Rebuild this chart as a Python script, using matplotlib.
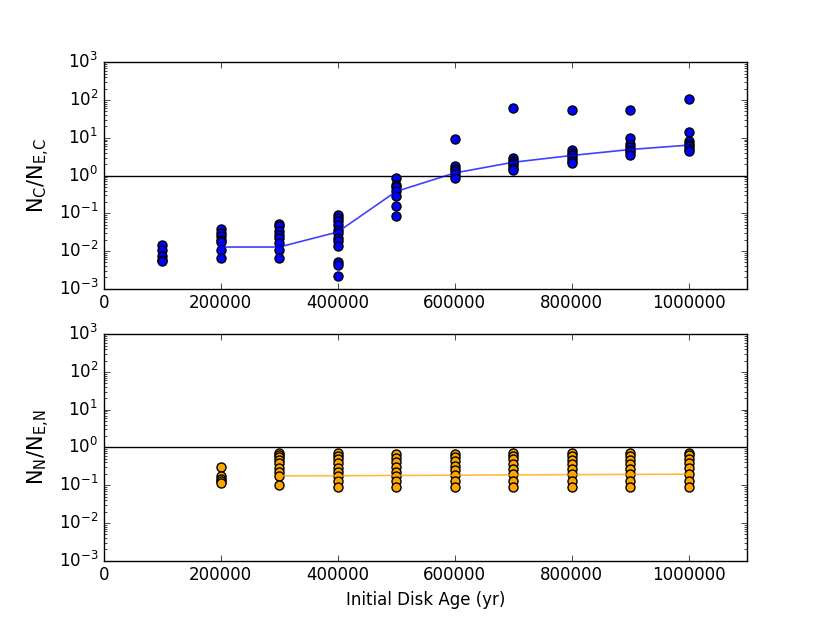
import numpy as np
import matplotlib
matplotlib.use('Agg')
import matplotlib.pyplot as plt

# carbon ratio N_C/N_E,C, points per initial disk age
ages_c = [100000, 200000, 300000, 400000, 500000, 600000, 700000, 800000, 900000, 1000000]
ratio_c = [
    [0.0148, 0.011, 0.0076, 0.0059, 0.0054],
    [0.039, 0.030, 0.025, 0.020, 0.017, 0.0105, 0.0065],
    [0.053, 0.046, 0.035, 0.027, 0.022, 0.016, 0.0105, 0.0065],
    [0.089, 0.076, 0.061, 0.048, 0.037, 0.030, 0.022, 0.018, 0.014, 0.0051, 0.0044, 0.0022],
    [0.87, 0.58, 0.49, 0.38, 0.28, 0.16, 0.083],
    [9.1, 1.77, 1.53, 1.30, 1.11, 0.87],
    [60, 2.9, 2.5, 2.2, 1.85, 1.6, 1.4],
    [56, 4.7, 4.0, 3.5, 2.9, 2.5, 2.2],
    [56, 9.6, 6.9, 5.8, 4.9, 4.2, 3.6],
    [104, 14, 8.2, 6.9, 6.0, 5.2, 4.6],
]
med_age_c = [200000, 300000, 400000, 500000, 600000, 700000, 800000, 900000, 1000000]
med_c = [0.0128, 0.0128, 0.032, 0.38, 1.17, 2.25, 3.4, 4.9, 6.4]

# nitrogen ratio N_N/N_E,N
ages_n = [200000, 300000, 400000, 500000, 600000, 700000, 800000, 900000, 1000000]
ratio_n = [
    [0.31, 0.17, 0.15, 0.13, 0.117],
    [0.71, 0.64, 0.55, 0.47, 0.38, 0.28, 0.23, 0.18, 0.10],
    [0.71, 0.60, 0.50, 0.38, 0.29, 0.23, 0.18, 0.13, 0.087],
    [0.66, 0.52, 0.42, 0.30, 0.23, 0.18, 0.13, 0.087],
    [0.68, 0.55, 0.44, 0.33, 0.25, 0.19, 0.13, 0.087],
    [0.71, 0.60, 0.48, 0.36, 0.27, 0.20, 0.13, 0.087],
    [0.71, 0.60, 0.47, 0.36, 0.27, 0.20, 0.13, 0.087],
    [0.71, 0.60, 0.47, 0.36, 0.27, 0.20, 0.13, 0.087],
    [0.73, 0.62, 0.49, 0.38, 0.28, 0.20, 0.13, 0.09],
]
med_age_n = [300000, 400000, 500000, 600000, 700000, 800000, 900000, 1000000]
med_n = [0.177, 0.178, 0.181, 0.184, 0.187, 0.19, 0.193, 0.196]

plt.style.use('classic')
plt.rcParams['mathtext.fontset'] = 'dejavusans'
fig, (ax1, ax2) = plt.subplots(2, 1, figsize=(8.3, 6.23), dpi=100)
fig.patch.set_facecolor('white')

def panel(ax, ages, vals, mage, med, col, lab):
    for a, v in zip(ages, vals):
        ax.plot([a] * len(v), v, 'o', color=col, mec='black', mew=1, ms=6.5, zorder=3)
    ax.plot(mage, med, '-', color=col, lw=1.2, alpha=0.75, zorder=4)
    ax.axhline(1.0, color='black', lw=1, zorder=2)
    ax.set_yscale('log')
    ax.set_ylim(1e-3, 1e3)
    ax.set_xlim(0, 1100000)
    ax.set_xticks(np.arange(0, 1000001, 200000))
    ax.ticklabel_format(axis='x', style='plain', useOffset=False)
    ax.set_ylabel(lab, fontsize=15)

panel(ax1, ages_c, ratio_c, med_age_c, med_c, 'blue', r'$\mathrm{N_C/N_{E{,}C}}$')
panel(ax2, ages_n, ratio_n, med_age_n, med_n, 'orange', r'$\mathrm{N_N/N_{E{,}N}}$')
ax2.set_xlabel('Initial Disk Age (yr)', fontsize=12)

fig.savefig('out.png', dpi=100, facecolor='white')
